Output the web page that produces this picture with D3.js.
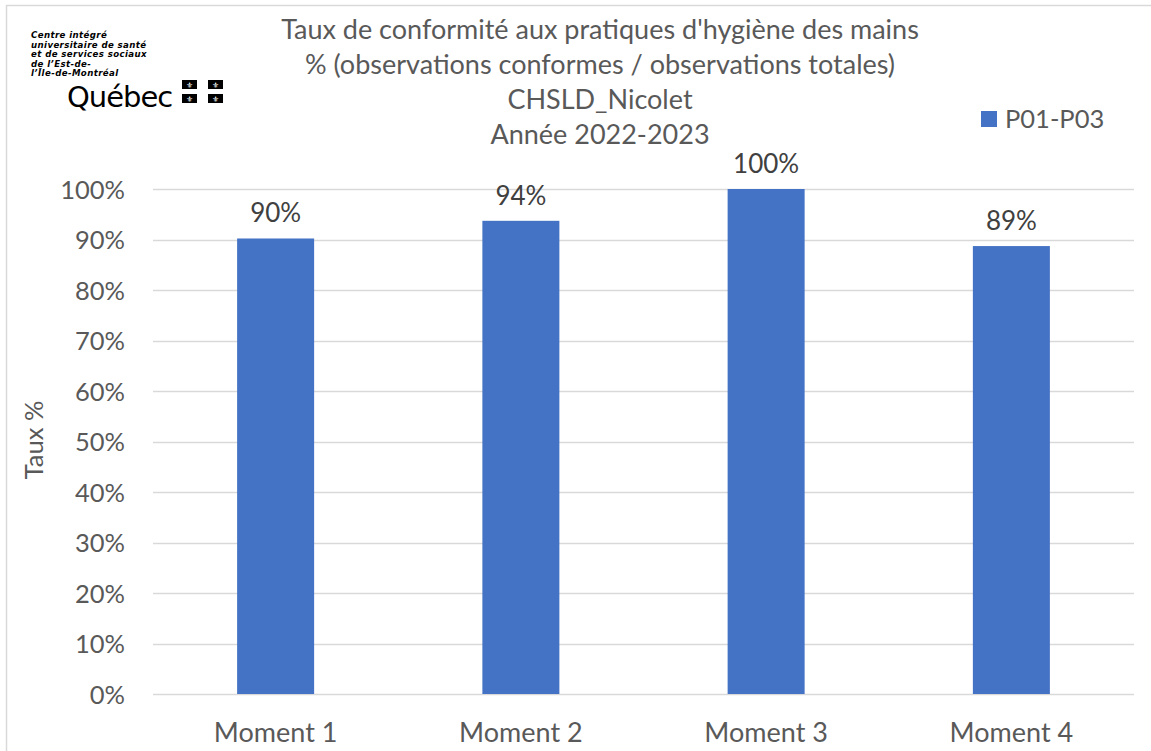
<!DOCTYPE html>
<html><head><meta charset="utf-8">
<script src="https://cdn.jsdelivr.net/npm/d3@7"></script>
<style>body{margin:0;background:#fff}svg{display:block}</style>
</head><body><svg id="c" width="1151" height="751"></svg>
<script>
const categories = ["Moment 1","Moment 2","Moment 3","Moment 4"];
const values = [0.902, 0.937, 1.0, 0.887];
const valueLabels = ["90%","94%","100%","89%"];
const yTicks = [0,0.1,0.2,0.3,0.4,0.5,0.6,0.7,0.8,0.9,1.0];
const seriesName = "P01-P03";
const titleLines = ["Taux de conformité aux pratiques d'hygiène des mains","% (observations conformes / observations totales)","CHSLD_Nicolet","Année 2022-2023"];
const logoLines = ["Centre intégré","universitaire de santé","et de services sociaux","de l’Est-de-","l’Île-de-Montréal"];

const svg = d3.select("#c");
const font = "Lato, 'Open Sans', sans-serif";
// border
svg.append("rect").attr("x",6.5).attr("y",5.5).attr("width",1160).attr("height",800).attr("fill","none").attr("stroke","#d9d9d9").attr("stroke-width",1.5);

const L=153, R=1134, T=189, B=694;
const x = d3.scaleBand().domain(categories).range([L,R]).paddingInner(0.686).paddingOuter(0.343);
const y = d3.scaleLinear().domain([0,1]).range([B,T]);

// grid
svg.append("g").selectAll("line").data(yTicks).join("line")
  .attr("x1",L).attr("x2",R).attr("y1",d=>Math.round(y(d))+0.5).attr("y2",d=>Math.round(y(d))+0.5)
  .attr("stroke","#d9d9d9").attr("stroke-width",1.5);

// y labels
const yAxis = d3.axisLeft(y).tickValues(yTicks).tickFormat(d3.format(".0%")).tickSize(0).tickPadding(0);
const ya = svg.append("g").attr("transform",`translate(125,0)`).call(yAxis);
ya.select(".domain").remove();
ya.selectAll("text").attr("font-family",font).attr("font-size",25.5).attr("fill","#595959").attr("dy","0.36em");

// bars
svg.append("g").selectAll("rect").data(values).join("rect")
  .attr("x",(d,i)=>x(categories[i])).attr("width",x.bandwidth())
  .attr("y",d=>y(d)).attr("height",d=>B-y(d)).attr("fill","#4472c4");

// value labels
svg.append("g").selectAll("text").data(values).join("text")
  .attr("x",(d,i)=>x(categories[i])+x.bandwidth()/2).attr("y",d=>y(d)-16)
  .attr("text-anchor","middle").attr("font-family",font).attr("font-size",26).attr("fill","#404040")
  .text((d,i)=>valueLabels[i]);

// x axis
const xAxis = d3.axisBottom(x).tickSize(0).tickPadding(0);
const xa = svg.append("g").attr("transform",`translate(0,${B})`).call(xAxis);
xa.select(".domain").remove();
xa.selectAll("text").attr("font-family",font).attr("font-size",27).attr("fill","#595959").attr("dy",null).attr("y",48);

// y title
svg.append("text").attr("transform","translate(43,440) rotate(-90)").attr("text-anchor","middle")
  .attr("font-family",font).attr("font-size",25.5).attr("fill","#595959").text("Taux %");

// title
svg.append("g").selectAll("text").data(titleLines).join("text")
  .attr("x",600).attr("y",(d,i)=>39+i*35).attr("text-anchor","middle")
  .attr("font-family",font).attr("font-size",27).attr("fill","#595959").text(d=>d);

// legend
svg.append("rect").attr("x",981).attr("y",111).attr("width",16).attr("height",16).attr("fill","#4472c4");
svg.append("text").attr("x",1005).attr("y",128).attr("font-family",font).attr("font-size",25.5).attr("fill","#595959").text(seriesName);

// logo
svg.append("g").selectAll("text").data(logoLines).join("text")
  .attr("x",31).attr("y",(d,i)=>38+i*9.6).attr("font-family","'DejaVu Sans', sans-serif").attr("font-weight","bold").attr("font-style","italic")
  .attr("font-size",8.6).attr("letter-spacing",0.4).attr("fill","#000").text(d=>d);
svg.append("text").attr("x",67).attr("y",107).attr("font-family","'DejaVu Sans', sans-serif").attr("font-size",29).attr("letter-spacing",-1).attr("fill","#000").text("Québec");
const flags=[[182,80],[208,80],[182,94],[208,94]];
svg.append("g").selectAll("g").data(flags).join("g").each(function(d){
  const g=d3.select(this);
  g.append("rect").attr("x",d[0]).attr("y",d[1]).attr("width",15).attr("height",9).attr("fill","#000");
  g.append("text").attr("x",d[0]+7.5).attr("y",d[1]+7.5).attr("text-anchor","middle").attr("font-size",8).attr("fill","#fff").attr("font-family","'DejaVu Sans'").text("⚜");
});
</script></body></html>
